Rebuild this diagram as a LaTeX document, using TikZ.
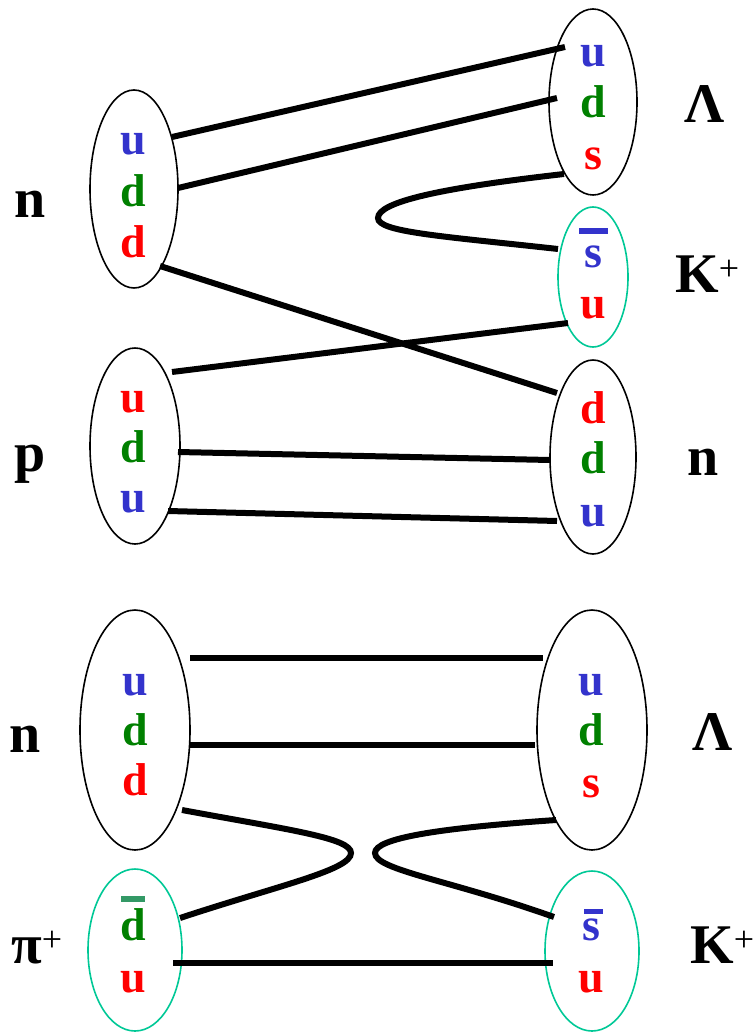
\documentclass[tikz,border=0pt]{standalone}
\usepackage{fontspec}
\setmainfont{Liberation Serif}
\definecolor{qblue}{RGB}{51,51,204}
\definecolor{qgreen}{RGB}{0,128,0}
\definecolor{qred}{RGB}{255,0,0}
\definecolor{mesonc}{RGB}{0,200,150}
\definecolor{barg}{RGB}{51,153,102}
\begin{document}
\begin{tikzpicture}[x=1pt,y=-1pt,
  quark/.style={anchor=base,inner sep=0pt,font=\fontsize{46}{46}\selectfont\bfseries},
  lbl/.style={anchor=base,inner sep=0pt,font=\fontsize{56}{56}\selectfont\bfseries},
  lblw/.style={anchor=base west,inner sep=0pt,font=\fontsize{56}{56}\selectfont\bfseries},
  baryon/.style={draw=black,line width=1.6pt},
  meson/.style={draw=mesonc,line width=1.6pt},
  qline/.style={line width=6pt},
  sbar/.style={line width=6pt}]
\useasboundingbox (0,0) rectangle (754,1032);
\newcommand{\plus}{\raisebox{12pt}{\fontsize{36}{36}\selectfont\mdseries +}}
% ---- ellipses (top) ----
\draw[baryon] (134,189) ellipse[x radius=44,y radius=99];
\draw[baryon] (593,102) ellipse[x radius=44,y radius=93];
\draw[meson]  (593,277) ellipse[x radius=35,y radius=70];
\draw[baryon] (135,446) ellipse[x radius=45,y radius=98];
\draw[baryon] (593,457) ellipse[x radius=43,y radius=97];
% ---- ellipses (bottom) ----
\draw[baryon] (135,730) ellipse[x radius=55,y radius=120];
\draw[baryon] (592,730) ellipse[x radius=55,y radius=120];
\draw[meson]  (135,950) ellipse[x radius=47,y radius=81];
\draw[meson]  (592,951) ellipse[x radius=47,y radius=80];
% ---- quarks (top) ----
\node[quark,text=qblue]  (n1u)  at (133,155) {u};
\node[quark,text=qgreen] (n1d)  at (133,207) {d};
\node[quark,text=qred]   (n1d2) at (133,257) {d};
\node[quark,text=qblue]  (L1u)  at (593,67) {u};
\node[quark,text=qgreen] (L1d)  at (593,118) {d};
\node[quark,text=qred]   (L1s)  at (593,170) {s};
\node[quark,text=qblue]  (K1s)  at (593,267) {s};
\node[quark,text=qred]   (K1u)  at (593,318) {u};
\node[quark,text=qred]   (pu)   at (133,412) {u};
\node[quark,text=qgreen] (pd)   at (133,462) {d};
\node[quark,text=qblue]  (pu2)  at (133,512) {u};
\node[quark,text=qred]   (n2d)  at (593,423) {d};
\node[quark,text=qgreen] (n2d2) at (593,473) {d};
\node[quark,text=qblue]  (n2u)  at (593,526) {u};
% ---- quarks (bottom) ----
\node[quark,text=qblue]  (n3u)  at (135,695) {u};
\node[quark,text=qgreen] (n3d)  at (135,745) {d};
\node[quark,text=qred]   (n3d2) at (135,795) {d};
\node[quark,text=qblue]  (L2u)  at (591,695) {u};
\node[quark,text=qgreen] (L2d)  at (591,745) {d};
\node[quark,text=qred]   (L2s)  at (591,797) {s};
\node[quark,text=qgreen] (pid)  at (133,940) {d};
\node[quark,text=qred]   (piu)  at (133,992) {u};
\node[quark,text=qblue]  (K2s)  at (591,940) {s};
\node[quark,text=qred]   (K2u)  at (591,992) {u};
% ---- antiquark bars ----
\coordinate (b1a) at (579,231); \coordinate (b1b) at (608,231);
\draw[sbar,qblue] (b1a) -- (b1b);
\coordinate (b2a) at (121,899); \coordinate (b2b) at (145,899);
\draw[sbar,barg] (b2a) -- (b2b);
\coordinate (b3a) at (584,911); \coordinate (b3b) at (603,911);
\draw[line width=5pt,qblue] (b3a) -- (b3b);
% ---- hadron labels ----
\node[lbl]  (ln1) at (30,218) {n};
\node[lbl]  (lL1) at (705,123) {Λ};
\node[lblw] (lK1) at (675,292) {K\plus};
\node[lbl]  (lp)  at (30,471) {p};
\node[lbl]  (ln2) at (703,475) {n};
\node[lbl]  (ln3) at (25,752) {n};
\node[lbl]  (lL2) at (713,750) {Λ};
\node[lblw] (lpi) at (11,963) {π\plus};
\node[lblw] (lK2) at (690,963) {K\plus};
% ---- line end points ----
\coordinate (e1a) at (172,137); \coordinate (e1b) at (565,47);
\coordinate (e2a) at (178,188); \coordinate (e2b) at (557,98);
\coordinate (e3a) at (160,266); \coordinate (e3b) at (557,393);
\coordinate (e4a) at (564,174); \coordinate (e4t) at (378,218); \coordinate (e4b) at (558,249);
\coordinate (e5a) at (172,372); \coordinate (e5b) at (568,323);
\coordinate (e6a) at (178,452); \coordinate (e6b) at (550,460);
\coordinate (e7a) at (168,511); \coordinate (e7b) at (557,521);
\coordinate (f1a) at (190,658); \coordinate (f1b) at (543,658);
\coordinate (f2a) at (190,745); \coordinate (f2b) at (535,745);
\coordinate (f3a) at (182,810); \coordinate (f3t) at (351,853); \coordinate (f3b) at (180,918);
\coordinate (f4a) at (556,820); \coordinate (f4t) at (375,853); \coordinate (f4b) at (554,917);
\coordinate (f5a) at (173,963); \coordinate (f5b) at (553,963);
% ---- quark lines ----
\draw[qline] (e1a) -- (e1b);
\draw[qline] (e2a) -- (e2b);
\draw[qline] (e3a) -- (e3b);
\draw[qline] (e4a) .. controls (440,188) and (378,202) .. (e4t)
             .. controls (378,232) and (440,236) .. (e4b);
\draw[qline] (e5a) -- (e5b);
\draw[qline] (e6a) -- (e6b);
\draw[qline] (e7a) -- (e7b);
\draw[qline] (f1a) -- (f1b);
\draw[qline] (f2a) -- (f2b);
\draw[qline] (f3a) .. controls (290,830) and (351,838) .. (f3t)
             .. controls (351,870) and (280,885) .. (f3b);
\draw[qline] (f4a) .. controls (440,828) and (375,838) .. (f4t)
             .. controls (375,870) and (450,880) .. (f4b);
\draw[qline] (f5a) -- (f5b);
\end{tikzpicture}
\end{document}
